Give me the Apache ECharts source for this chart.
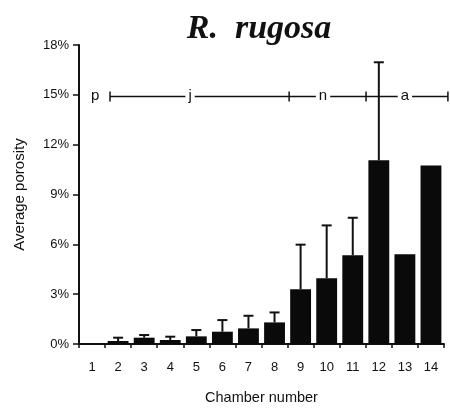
<!DOCTYPE html>
<html>
<head>
<meta charset="utf-8">
<script src="https://cdn.jsdelivr.net/npm/echarts@6/dist/echarts.min.js"></script>
<style>
  html, body { margin: 0; padding: 0; background: #fff; }
  #chart { width: 450px; height: 410px; }
</style>
</head>
<body>
<div id="chart"></div>
<script>
// Chamber numbers along the x axis
const chambers = ['1','2','3','4','5','6','7','8','9','10','11','12','13','14'];
// Mean porosity per chamber (%)
const porosity = [0, 0.18, 0.38, 0.24, 0.46, 0.74, 0.94, 1.3, 3.3, 3.96, 5.34, 11.06, 5.4, 10.74];
// Upper end of the error bar (%), null where no bar is drawn
const errorTop = [null, 0.38, 0.54, 0.44, 0.84, 1.44, 1.7, 1.9, 5.98, 7.14, 7.6, 16.96, null, null];
// Y tick values (%)
const yTicks = [0, 3, 6, 9, 12, 15, 18];
// Growth phases: label, label position and boundaries in chamber units
const phaseLevel = 14.9;
const phaseLabels = ['p', 'j', 'n', 'a'];
const phaseLabelPos = [0.62, 4.26, 9.36, 12.5];
const phaseBounds = [1.19, 8.06, 11.01, 14.15];

const chart = echarts.init(document.getElementById('chart'));

const axisFont = { fontFamily: 'Liberation Sans, Arial, sans-serif', color: '#111' };

chart.setOption({
  animation: false,
  backgroundColor: '#fff',
  title: {
    text: 'R.  rugosa',
    left: 254,
    top: 7,
    textAlign: 'center',
    textStyle: {
      fontFamily: 'Liberation Serif, Times New Roman, serif',
      fontStyle: 'italic',
      fontWeight: 'bold',
      fontSize: 34,
      color: '#111'
    }
  },
  grid: { left: 79, right: 6, top: 45, bottom: 65 },
  xAxis: [{
    type: 'category',
    data: chambers,
    name: 'Chamber number',
    nameLocation: 'middle',
    nameGap: 46,
    nameTextStyle: Object.assign({ fontSize: 14.5 }, axisFont),
    axisLine: { lineStyle: { color: '#111', width: 2 } },
    axisTick: { show: true, length: 4, lineStyle: { color: '#111', width: 1.5 } },
    axisLabel: Object.assign({ fontSize: 13, margin: 17 }, axisFont),
    splitLine: { show: false }
  }, {
    type: 'value',
    min: 0,
    max: 14,
    show: false
  }],
  yAxis: {
    type: 'value',
    min: yTicks[0],
    max: yTicks[yTicks.length - 1],
    interval: yTicks[1] - yTicks[0],
    name: 'Average porosity',
    nameLocation: 'middle',
    nameGap: 52,
    nameTextStyle: Object.assign({ fontSize: 15 }, axisFont),
    axisLine: { show: true, lineStyle: { color: '#111', width: 2 } },
    axisTick: { show: true, length: 6, lineStyle: { color: '#111', width: 1.5 } },
    axisLabel: Object.assign({ fontSize: 13, margin: 10, formatter: '{value}%' }, axisFont),
    splitLine: { show: false }
  },
  series: [{
    type: 'bar',
    data: porosity,
    barCategoryGap: '20%',
    itemStyle: { color: '#0a0a0a' },
    z: 2
  }, {
    // upper error bars with caps
    type: 'custom',
    z: 3,
    data: errorTop.map((v, i) => [i, porosity[i], v]),
    renderItem: function (params, api) {
      const top = api.value(2);
      if (top === null || isNaN(top)) return null;
      const idx = api.value(0);
      const base = api.coord([idx, api.value(1)]);
      const tip = api.coord([idx, top]);
      const capHalf = 5;
      const style = { stroke: '#111', lineWidth: 2 };
      return {
        type: 'group',
        children: [
          { type: 'line', shape: { x1: base[0], y1: base[1], x2: tip[0], y2: tip[1] }, style: style },
          { type: 'line', shape: { x1: tip[0] - capHalf, y1: tip[1], x2: tip[0] + capHalf, y2: tip[1] }, style: style }
        ]
      };
    }
  }, {
    // growth-phase bracket line
    type: 'custom',
    xAxisIndex: 1,
    z: 4,
    silent: true,
    data: [[phaseBounds[0], phaseBounds[phaseBounds.length - 1], phaseLevel]],
    renderItem: function (params, api) {
      const start = api.coord([phaseBounds[0], phaseLevel]);
      const end = api.coord([phaseBounds[phaseBounds.length - 1], phaseLevel]);
      const style = { stroke: '#111', lineWidth: 1.5 };
      const children = [
        { type: 'line', shape: { x1: start[0], y1: start[1], x2: end[0], y2: end[1] }, style: style }
      ];
      phaseBounds.forEach(function (b) {
        const p = api.coord([b, phaseLevel]);
        children.push({ type: 'line', shape: { x1: p[0], y1: p[1] - 5, x2: p[0], y2: p[1] + 5 }, style: style });
      });
      phaseLabels.forEach(function (t, i) {
        const p = api.coord([phaseLabelPos[i], phaseLevel]);
        children.push({
          type: 'text',
          x: p[0], y: p[1] - 1,
          style: {
            text: t,
            fontSize: 15,
            fontFamily: 'Liberation Sans, Arial, sans-serif',
            fill: '#111',
            align: 'center',
            verticalAlign: 'middle',
            backgroundColor: '#fff',
            padding: [0, 3]
          }
        });
      });
      return { type: 'group', children: children };
    }
  }]
});
</script>
</body>
</html>
